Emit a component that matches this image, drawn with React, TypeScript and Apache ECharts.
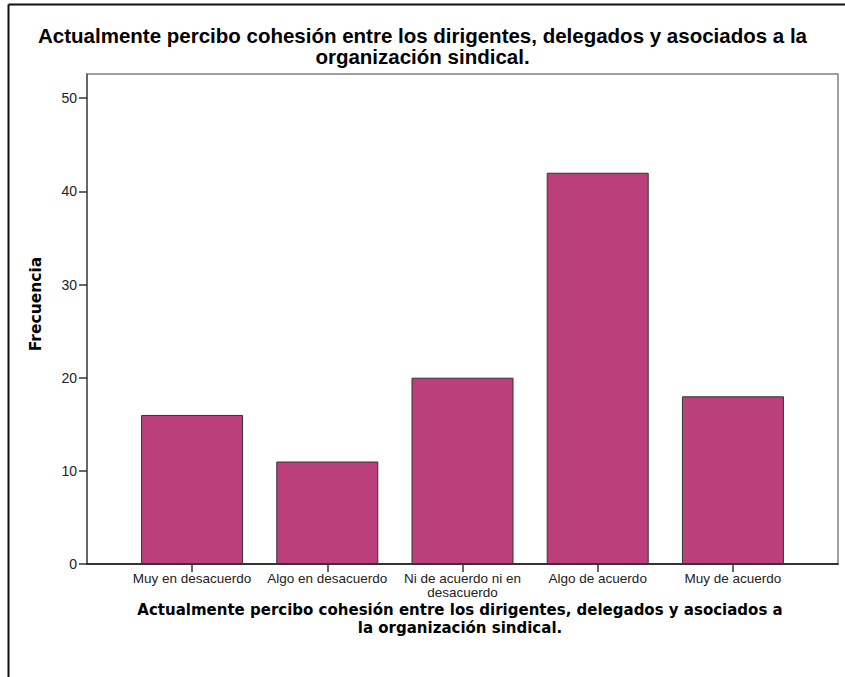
import React, { useEffect, useRef } from "react";
import * as echarts from "echarts";

const categories = [
  "Muy en desacuerdo",
  "Algo en desacuerdo",
  "Ni de acuerdo ni en\ndesacuerdo",
  "Algo de acuerdo",
  "Muy de acuerdo",
];
const frequencies = [16, 11, 20, 42, 18];
const yTickValues = [0, 10, 20, 30, 40, 50];
const titleText =
  "Actualmente percibo cohesión entre los dirigentes, delegados y asociados a la\norganización sindical.";
const xAxisTitleLines = [
  "Actualmente percibo cohesión entre los dirigentes, delegados y asociados a",
  "la organización sindical.",
];
const yAxisTitle = "Frecuencia";

const FONT = "'Liberation Sans', Arial, sans-serif";
const WIDE = "'DejaVu Sans', 'Liberation Sans', sans-serif";

export default function App() {
  const ref = useRef<HTMLDivElement>(null);
  useEffect(() => {
    if (!ref.current) return;
    const chart = echarts.init(ref.current, null, { renderer: "svg" });
    const idx = categories.map((_, i) => i);
    const data = frequencies.map((v, i) => [i, v]);
    const bottomTitle = xAxisTitleLines.map((t, i) => ({
      type: "text",
      x: 460,
      y: 610 + i * 18,
      style: {
        text: t,
        fontFamily: WIDE,
        fontSize: 15,
        fontWeight: "bold",
        fill: "#000",
        align: "center",
        verticalAlign: "middle",
      },
    }));
    chart.setOption({
      animation: false,
      backgroundColor: "#ffffff",
      textStyle: { fontFamily: FONT },
      title: {
        text: titleText,
        left: "center",
        top: 20,
        textStyle: {
          fontFamily: FONT,
          fontSize: 20.5,
          fontWeight: "bold",
          color: "#000",
          lineHeight: 21,
        },
      },
      grid: {
        left: 87,
        right: 7,
        top: 74,
        bottom: 113,
        show: true,
        borderColor: "#808080",
        borderWidth: 1.5,
        backgroundColor: "transparent",
      },
      xAxis: {
        type: "value",
        min: -0.777,
        max: 4.777,
        splitLine: { show: false },
        axisLine: { show: true, onZero: false, lineStyle: { color: "#111", width: 1.5 } },
        axisTick: {
          show: true,
          customValues: idx,
          length: 8,
          lineStyle: { color: "#333", width: 1.5 },
        },
        axisLabel: {
          customValues: idx,
          formatter: (v: number) => categories[Math.round(v)] ?? "",
          fontFamily: FONT,
          fontSize: 13.5,
          lineHeight: 14,
          color: "#222",
          margin: 7,
        },
      },
      yAxis: {
        type: "value",
        min: 0,
        max: 52.6,
        splitLine: { show: false },
        axisLine: { show: true, onZero: false, lineStyle: { color: "#555", width: 1.5 } },
        axisTick: {
          show: true,
          customValues: yTickValues,
          length: 8,
          lineStyle: { color: "#333", width: 1.5 },
        },
        axisLabel: {
          customValues: yTickValues,
          fontFamily: FONT,
          fontSize: 14,
          color: "#222",
          margin: 10,
        },
      },
      series: [
        {
          type: "bar",
          data,
          barWidth: 102,
          itemStyle: {
            color: "#BA3F7B",
            borderColor: "#333",
            borderWidth: 1,
          },
        },
      ],
      graphic: [
        ...bottomTitle,
        {
          type: "text",
          x: 36,
          y: 304,
          rotation: Math.PI / 2,
          style: {
            text: yAxisTitle,
            fontFamily: WIDE,
            fontSize: 15.5,
            fontWeight: "bold",
            fill: "#000",
            align: "center",
            verticalAlign: "middle",
          },
        },
        {
          type: "line",
          shape: { x1: 8.5, y1: 4.5, x2: 845, y2: 4.5 },
          style: { stroke: "#111", lineWidth: 2 },
        },
        {
          type: "line",
          shape: { x1: 8.5, y1: 4.5, x2: 8.5, y2: 677 },
          style: { stroke: "#111", lineWidth: 2 },
        },
      ],
    });
    return () => chart.dispose();
  }, []);
  return (
    <div
      ref={ref}
      style={{ position: "fixed", left: 0, top: 0, width: 845, height: 677 }}
    />
  );
}
